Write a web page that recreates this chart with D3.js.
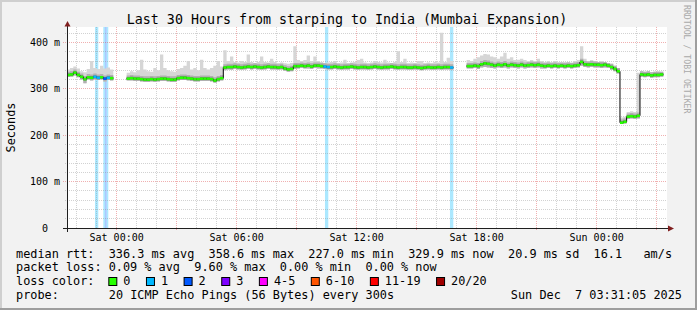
<!DOCTYPE html>
<html><head><meta charset="utf-8">
<script src="https://cdn.jsdelivr.net/npm/d3@7/dist/d3.min.js"></script>
<style>
html,body{margin:0;padding:0;background:#f2f2f2;}
svg{display:block;}
text{font-family:"DejaVu Sans Mono",monospace;white-space:pre;}
</style>
</head><body>
<svg id="chart" width="697" height="310"></svg>
<script>
// ---------------- data ----------------
const title = "Last 30 Hours from starping to India (Mumbai Expansion)";
const yTitle = "Seconds";
const graphStart = new Date(2025, 11, 5, 21, 31, 5);
const graphEnd   = new Date(2025, 11, 7, 3, 31, 5);
const binStart   = new Date(2025, 11, 5, 21, 30, 0);   // first 10-minute bin
const binMinutes = 10;

// median round-trip time per 10-minute bin (ms), null = no data
const median = [
  330,331,335,330,326,321,325,324,326,324,325,322,324,323,
  null,null,null,null,
  322,323,322,322,321,320,320,321,320,321,322,322,321,320,320,323,324,324,323,322,321,321,322,322,322,321,318,321,323,
  346,347,347,348,347,346,347,348,347,348,347,346,347,348,347,347,346,347,
  344,342,343,
  349,349,350,349,350,348,350,350,349,348,
  347,347,348,347,346,347,347,348,347,346,
  347,347,346,347,348,347,346,347,347,348,
  347,346,347,347,346,346,347,346,345,346,
  347,346,346,347,346,347,347,346,
  null,null,null,null,
  349,349,350,349,353,355,354,352,350,352,
  351,353,350,352,351,350,352,350,351,352,
  351,352,350,349,350,349,350,349,350,349,
  350,349,350,351,358,353,352,353,352,352,
  351,352,350,347,343,338,227,229,240,241,
  240,242,331,330,331,329,330,330,331,
  null
];
// lowest ping per bin (ms)
const low = [
  326,326,329,325,320,312,320,318,320,319,320,316,319,318,
  null,null,null,null,
  318,318,317,317,316,315,315,316,315,316,317,317,316,315,315,318,319,319,318,317,316,316,317,317,317,316,313,316,318,
  340,342,341,343,342,341,342,343,342,343,342,341,342,343,342,342,341,342,
  339,337,338,
  343,344,345,344,344,343,345,344,344,343,
  342,342,343,342,341,342,342,343,342,341,
  342,342,341,342,343,342,341,342,342,343,
  342,341,342,342,341,341,342,341,340,341,
  342,341,341,342,341,342,342,341,
  null,null,null,null,
  344,344,345,343,346,347,346,345,344,346,
  345,346,344,346,345,344,346,344,345,346,
  345,346,344,344,345,344,345,344,345,344,
  345,344,345,346,350,347,346,347,346,346,
  345,346,345,341,338,333,225,226,235,236,
  235,236,326,325,326,324,325,325,326,
  null
];
// highest ping per bin (ms)
const high = [
  342,345,348,344,338,336,343,360,345,343,350,344,346,342,
  null,null,null,null,
  335,338,336,340,363,342,338,337,345,340,374,345,340,338,337,343,345,350,360,342,345,340,363,345,342,345,350,360,348,
  383,360,370,358,357,360,358,374,358,356,358,370,358,357,365,358,356,357,
  355,354,356,
  392,362,360,362,372,360,370,360,358,356,
  357,358,360,356,357,363,356,357,358,362,
  365,357,356,357,360,358,357,363,357,356,
  358,381,358,365,356,357,356,360,360,356,
  357,356,358,357,421,358,367,360,
  null,null,null,null,
  362,360,365,368,372,375,374,370,368,365,
  370,378,365,368,362,363,365,362,360,362,
  360,365,360,358,360,358,360,358,357,358,
  358,357,360,362,392,365,360,362,360,358,
  360,358,356,354,350,345,238,240,250,252,
  250,335,338,337,338,336,337,338,337,
  null
];
// packet-loss periods (pings lost out of 20)
const lossFrom  = ["2025-12-05T22:55","2025-12-05T23:20","2025-12-05T23:25","2025-12-05T23:30","2025-12-06T10:25","2025-12-06T16:40"];
const lossTo    = ["2025-12-05T23:05","2025-12-05T23:25","2025-12-05T23:30","2025-12-05T23:35","2025-12-06T10:35","2025-12-06T16:50"];
const lossCount = [1,1,2,1,1,1];

const yTicks = [0,100,200,300,400];
const yTickLabels = ["  0  ","100 m","200 m","300 m","400 m"];
const xLabelHours = [6];   // label every 6 hours

const lossLabels = ["0","1","2","3","4-5","6-10","11-19","20/20"];
const lossColors = ["#26ff00","#00b8ff","#0059ff","#7e00ff","#ff00ff","#ff5500","#ff0000","#a00000"];
const legendLines = [
  "median rtt:  336.3 ms avg  358.6 ms max  227.0 ms min  329.9 ms now  20.9 ms sd  16.1   am/s",
  "packet loss: 0.09 % avg  9.60 % max  0.00 % min  0.00 % now"
];
const probeLabel = "probe:";
const probeText = "20 ICMP Echo Pings (56 Bytes) every 300s";
const stampText = "Sun Dec  7 03:31:05 2025";
const watermark = "RRDTOOL / TOBI OETIKER";

// ---------------- drawing ----------------
const W = 697, H = 310;
const L = 67, R = 667, TOP = 27, BOT = 228;
const svg = d3.select("#chart");

const x = d3.scaleTime().domain([graphStart, graphEnd]).range([L, R]);
const y = d3.scaleLinear().domain([0, 433.4]).range([BOT, TOP]);
const px = v => Math.floor(v) + 0.5;

// background + 3D frame
svg.append("rect").attr("width", W).attr("height", H).attr("fill", "#f2f2f2");
svg.append("path").attr("d", `M0,0H${W}V2H2V${H}H0Z`).attr("fill", "#cfcfcf");
svg.append("path").attr("d", `M${W},${H}H0V${H-2}H${W-2}V0H${W}Z`).attr("fill", "#9e9e9e");

// canvas
svg.append("rect").attr("x", L).attr("y", TOP).attr("width", R - L).attr("height", BOT - TOP).attr("fill", "#fff");

// bins
const bins = median.map((m, i) => ({
  t0: d3.timeMinute.offset(binStart, i * binMinutes),
  t1: d3.timeMinute.offset(binStart, (i + 1) * binMinutes),
  med: m, lo: low[i], hi: high[i]
}));
const clipX = t => Math.max(L, Math.min(R, x(t)));

// loss bands
const losses = lossFrom.map((f, i) => ({from: new Date(f), to: new Date(lossTo[i]), n: lossCount[i]}));
function lossIndex(n) {
  if (n <= 0) return 0; if (n === 1) return 1; if (n === 2) return 2; if (n === 3) return 3;
  if (n <= 5) return 4; if (n <= 10) return 5; if (n <= 19) return 6; return 7;
}
svg.append("g").selectAll("rect").data(losses).join("rect")
  .attr("x", d => x(d.from)).attr("width", d => x(d.to) - x(d.from))
  .attr("y", TOP).attr("height", BOT - TOP)
  .attr("fill", d => lossColors[lossIndex(d.n)]).attr("fill-opacity", 0.33);

// grid
const gGrid = svg.append("g").attr("fill", "none").attr("stroke-width", 1).attr("stroke-dasharray", "1,1");
const hours = d3.timeHour.range(graphStart, graphEnd);
gGrid.selectAll("line.vmin").data(hours.filter(h => h.getHours() % 3 !== 0)).join("line")
  .attr("x1", d => px(x(d))).attr("x2", d => px(x(d))).attr("y1", TOP).attr("y2", BOT)
  .attr("stroke", "#8f8f8f").attr("stroke-opacity", 0.4);
const yMinor = d3.range(20, 433, 20).filter(v => v % 100 !== 0);
gGrid.selectAll("line.hmin").data(yMinor).join("line")
  .attr("x1", L - 2).attr("x2", R).attr("y1", d => px(y(d))).attr("y2", d => px(y(d)))
  .attr("stroke", "#8f8f8f").attr("stroke-opacity", 0.4);
gGrid.selectAll("line.vmaj").data(hours.filter(h => h.getHours() % 3 === 0)).join("line")
  .attr("x1", d => px(x(d))).attr("x2", d => px(x(d))).attr("y1", TOP).attr("y2", BOT + 3)
  .attr("stroke", "#de4f4f").attr("stroke-opacity", 0.45);
gGrid.selectAll("line.hmaj").data(yTicks.slice(1)).join("line")
  .attr("x1", L - 4).attr("x2", R).attr("y1", d => px(y(d))).attr("y2", d => px(y(d)))
  .attr("stroke", "#de4f4f").attr("stroke-opacity", 0.45);

// smoke
function bandPoints(topFn, loFn) {
  const pts = [];
  bins.forEach((b, i) => {
    if (b.med == null) { pts.push(null); return; }
    pts.push({t: b.t0, top: topFn(b), lo: loFn(b)});
    const nx = bins[i + 1];
    if (!nx || nx.med == null) pts.push({t: b.t1, top: topFn(b), lo: loFn(b)});
  });
  return pts;
}
const area = d3.area()
  .defined(d => d != null)
  .curve(d3.curveStepAfter)
  .x(d => clipX(d.t)).y0(d => y(d.lo)).y1(d => y(d.top));
const gSmoke = svg.append("g");
gSmoke.append("path").attr("d", area(bandPoints(b => b.hi, b => b.lo))).attr("fill", "#d6d6d6");
gSmoke.append("path").attr("d", area(bandPoints(b => Math.min(b.hi, b.med + 7), b => b.lo))).attr("fill", "#b0b0b0");
gSmoke.append("path").attr("d", area(bandPoints(b => Math.min(b.hi, b.med + 3), b => Math.max(b.lo, b.med - 3)))).attr("fill", "#6e6e6e");

// median thin black step line
const medPts = [];
bins.forEach((b, i) => {
  if (b.med == null) { medPts.push(null); return; }
  medPts.push({t: b.t0, v: b.med});
  const nx = bins[i + 1];
  if (!nx || nx.med == null) medPts.push({t: b.t1, v: b.med});
});
svg.append("path")
  .attr("d", d3.line().defined(d => d != null).curve(d3.curveStepAfter).x(d => clipX(d.t)).y(d => y(d.v))(medPts))
  .attr("fill", "none").attr("stroke", "#000").attr("stroke-width", 1);

// median coloured by loss
function binLoss(b) {
  let n = 0;
  losses.forEach(l => { if (l.from < b.t1 && l.to > b.t0) n = Math.max(n, l.n); });
  return n;
}
svg.append("g").selectAll("line").data(bins.filter(b => b.med != null)).join("line")
  .attr("x1", d => clipX(d.t0)).attr("x2", d => clipX(d.t1))
  .attr("y1", d => y(d.med)).attr("y2", d => y(d.med))
  .attr("stroke", d => lossColors[lossIndex(binLoss(d))]).attr("stroke-width", 2.5);

// axes
svg.append("line").attr("x1", L + 0.5).attr("x2", L + 0.5).attr("y1", 23).attr("y2", BOT + 4)
  .attr("stroke", "#1f1f1f");
svg.append("line").attr("x1", L - 4).attr("x2", R + 3).attr("y1", BOT + 0.5).attr("y2", BOT + 0.5)
  .attr("stroke", "#1f1f1f");
svg.append("path").attr("d", `M${L - 2.5},${TOP - 0.5}L${L + 3.5},${TOP - 0.5}L${L + 0.5},${TOP - 6}Z`).attr("fill", "#801f1f");
svg.append("path").attr("d", `M${R + 1},${BOT - 2.5}L${R + 1},${BOT + 3.5}L${R + 7},${BOT + 0.5}Z`).attr("fill", "#801f1f");

// x labels
const fmt = d3.timeFormat("%a %H:%M");
const xLabels = hours.filter(h => h.getHours() % xLabelHours[0] === 0);
svg.append("g").selectAll("text").data(xLabels).join("text")
  .attr("x", d => x(d)).attr("y", 241).attr("text-anchor", "middle")
  .attr("font-size", "10px").attr("fill", "#000").text(d => fmt(d));

// y labels
svg.append("g").selectAll("text").data(yTicks).join("text")
  .attr("x", 30).attr("y", d => y(d) + 3.5)
  .attr("font-size", "10px").attr("fill", "#000").text((d, i) => yTickLabels[i]);

// titles
svg.append("text").attr("x", 347).attr("y", 23.5).attr("text-anchor", "middle")
  .attr("font-size", "13.3px").attr("fill", "#000").text(title);
svg.append("text").attr("transform", `translate(15,${(TOP + BOT) / 2}) rotate(-90)`)
  .attr("text-anchor", "middle").attr("font-size", "11.85px").attr("fill", "#000").text(yTitle);
svg.append("text").attr("transform", "translate(684,5) rotate(90)")
  .attr("font-size", "8.2px").attr("fill", "#a9a9a9").text(watermark);

// legend
const LF = "11.85px", CW = 7.14;
legendLines.forEach((s, i) => {
  svg.append("text").attr("x", 16).attr("y", 257.5 + i * 13.9).attr("font-size", LF).attr("fill", "#000").text(s);
});
svg.append("text").attr("x", 16).attr("y", 285.3).attr("font-size", LF).attr("fill", "#000").text("loss color:");
let lx = 16 + 13 * CW - 0.5;
lossLabels.forEach((lab, i) => {
  svg.append("rect").attr("x", lx + 0.5).attr("y", 277.5).attr("width", 8).attr("height", 8)
    .attr("fill", lossColors[i]).attr("stroke", "#000").attr("stroke-width", 1);
  svg.append("text").attr("x", lx + 15).attr("y", 285.3).attr("font-size", LF).attr("fill", "#000").text(lab);
  lx = lx + 15 + lab.length * CW + 15.5;
});
svg.append("text").attr("x", 16).attr("y", 299.2).attr("font-size", LF).attr("fill", "#000").text(probeLabel);
svg.append("text").attr("x", 16 + 13 * CW).attr("y", 299.2).attr("font-size", LF).attr("fill", "#000").text(probeText);
svg.append("text").attr("x", 682).attr("y", 299.2).attr("text-anchor", "end").attr("font-size", LF).attr("fill", "#000").text(stampText);
</script>
</body></html>
